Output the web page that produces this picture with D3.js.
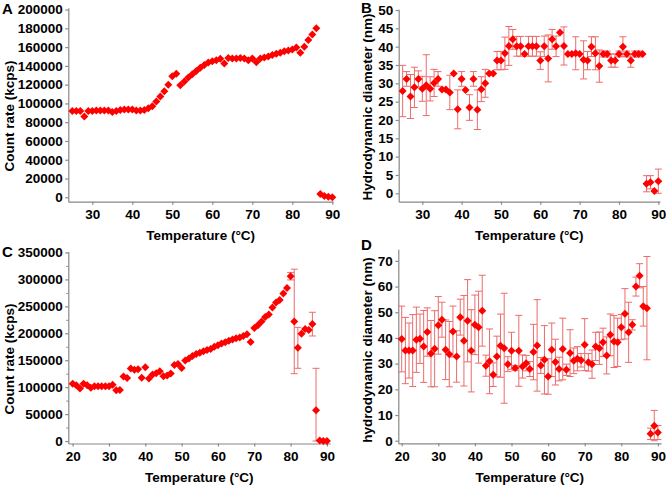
<!DOCTYPE html>
<html><head><meta charset="utf-8">
<script src="https://cdn.jsdelivr.net/npm/d3@7"></script>
<style>html,body{margin:0;padding:0;background:#fff;}svg{display:block;}</style>
</head><body>
<svg id="c" width="666" height="487"></svg>
<script>
// ---------- DATA ----------
const tempsAB = d3.range(25, 91);          // 25..90 °C
const tempsCD = d3.range(20, 91);          // 20..90 °C

const countA = [92000,92000,92000,86000,92000,92000,92500,92500,92500,92500,
  91000,92000,93000,93500,93500,93500,92500,92500,93000,95000,
  97000,102000,107500,113000,120000,129000,131500,119500,123500,127500,
  131000,134500,138000,141000,143500,145000,146000,147500,142500,148500,
  148000,148000,148500,148000,146000,148000,144000,148000,149000,150000,
  151500,153000,154000,155500,156500,157500,159500,154000,160500,167500,
  173500,180000,3500,1500,500,0];

const diamB = [27.9,31.2,26.4,28.9,31.2,28.5,29.5,28.5,30.1,31.2,
  28.3,28.3,27.5,32.7,22.9,31.2,28.2,23.4,31.2,22.8,
  28.4,30.0,32.7,32.7,36.2,36.2,38.2,40.2,42.0,40.1,
  40.1,38.0,40.1,40.1,40.1,36.2,40.1,36.8,42.0,40.1,
  43.9,40.2,38.0,38.0,38.2,38.0,36.4,36.2,40.0,38.2,
  34.7,38.0,38.0,36.2,36.2,38.0,40.0,38.0,36.2,38.0,
  38.0,38.0,2.6,3.0,0.6,3.3];
const errB = [7,2,6,5.5,2.2,3.4,8.3,3.3,3.7,2,
  0,0,4.7,0,5.3,2,0,3.5,2,5.4,
  3.4,3.8,0,0,2.5,2.5,4.4,5.3,2.7,2.7,
  2.7,0,2.7,2.7,2.7,2.4,2.8,6.4,2.7,2.8,
  0,5.2,0,0,4.5,0,5.2,2.5,2.7,4.5,
  4.4,0.8,0.8,1.8,1.8,0.8,2.7,0.8,1.8,0.8,
  0.8,0,2.2,1.8,0,3.3];

const countC = [106300,103300,97500,106300,103300,99000,101600,101600,101600,101600,
  101600,104400,94100,94500,120000,117000,134600,132100,133400,117300,
  137000,116000,123400,126000,129600,120300,121500,125200,141300,143100,
  135700,149300,153000,157900,161600,164000,166500,169000,171000,175000,
  178000,181000,183500,186000,188500,191000,192000,195000,198000,184000,
  210000,215000,222000,230000,235000,248000,257000,262000,274000,284000,
  306000,222000,173000,199000,208000,206000,217000,57000,1000,0,0];
const errC = [0,0,0,0,0,0,0,0,0,0,
  0,0,0,0,0,0,0,0,0,0,
  0,0,0,0,0,0,0,0,0,0,
  0,0,0,0,0,0,0,0,0,0,
  0,0,0,0,0,0,0,0,0,0,
  0,0,0,0,0,0,0,0,0,0,
  7000,97000,38000,0,0,0,22000,78000,0,0,0];

const diamD = [39.6,35.1,35.1,35.1,39.3,39.7,36.7,42.3,33.9,35.8,
  44.9,47.1,35.4,33.7,42.5,32.8,48.1,38.9,46.7,35.0,
  45.1,44.2,50.6,29.2,30.9,25.7,32.8,37.0,36.0,29.8,
  35.0,28.3,35.0,28.9,30.2,27.9,34.5,37.1,29.3,31.5,
  25.0,35.4,30.6,27.9,35.7,27.6,34.1,31.1,31.9,31.3,
  37.4,30.5,29.8,36.7,36.0,38.3,33.2,41.2,38.6,38.3,
  44.2,49.4,42.2,45.1,60.0,64.2,52.3,51.6,2.7,5.8,3.2];
const errD = [12.8,12.9,10.7,14,12.7,9.6,14,9.4,12.9,14.8,
  11.2,6.8,11.6,12.7,9.9,10,7,17.6,16,16,
  11.6,14,13.8,4.1,12.6,4.6,7.9,12.3,21.4,2.9,
  7.2,1,13.8,4.5,3,2.9,10.8,17.8,3.1,13.3,
  6.9,10.4,8.9,4.6,12,2.2,9.1,5,4.7,2.6,
  10.1,3.4,5.5,5.5,6.3,5.5,7.2,8.1,10.1,9.4,
  4.9,9.8,11.7,2,3.7,4.7,7.7,20.1,2.2,6,2.7];

const ticksXA = [30,40,50,60,70,80,90];
const ticksXC = [20,30,40,50,60,70,80,90];
const ticksYA = d3.range(0, 200001, 20000);
const ticksYB = d3.range(0, 51, 5);
const ticksYC = d3.range(0, 350001, 50000);
const minorYC = d3.range(25000, 350000, 50000);
const ticksYD = d3.range(0, 71, 10);

// ---------- DRAW ----------
const svg = d3.select("#c");
const FONT = "Arial, 'Liberation Sans', sans-serif";
const RED = "#ff0000";
const ERR = "#ec6b6b";
const AX = "#888";

function panel(o) {
  const x = d3.scaleLinear().domain(o.xd).range(o.xr);
  const y = d3.scaleLinear().domain(o.yd).range(o.yr);
  const g = svg.append("g");

  const gx = g.append("g").attr("transform", `translate(0,${o.yr[0]})`)
    .call(d3.axisBottom(x).tickValues(o.xt).tickSize(3).tickPadding(5).tickSizeOuter(0));
  const gy = g.append("g").attr("transform", `translate(${o.xr[0]},0)`)
    .call(d3.axisLeft(y).tickValues(o.yt).tickSize(3).tickPadding(2.5).tickSizeOuter(0).tickFormat(d3.format("d")));
  if (o.ym) {
    g.append("g").attr("transform", `translate(${o.xr[0]},0)`)
      .call(d3.axisLeft(y).tickValues(o.ym).tickSize(2).tickFormat(""))
      .call(s => s.select(".domain").remove())
      .selectAll("line").attr("stroke", AX);
  }
  [gx, gy].forEach(a => {
    a.select(".domain").attr("stroke", AX).attr("stroke-width", 1.2);
    a.selectAll(".tick line").attr("stroke", AX).attr("stroke-width", 1.2);
    a.selectAll(".tick text").attr("fill", "#000").attr("font-family", FONT)
      .attr("font-weight", "bold").attr("font-size", "13.5px");
  });

  // error bars
  const pts = o.t.map((t, i) => ({t, v: o.v[i], e: o.e ? o.e[i] : 0}));
  const eg = g.append("g").attr("stroke", ERR).attr("stroke-width", 1).attr("fill", "none");
  pts.filter(p => p.e > 0).forEach(p => {
    const lo = Math.max(p.v - p.e, 0), hi = p.v + p.e;
    const cx = x(p.t);
    eg.append("line").attr("x1", cx).attr("x2", cx).attr("y1", y(lo)).attr("y2", y(hi));
    eg.append("line").attr("x1", cx - 3.5).attr("x2", cx + 3.5).attr("y1", y(hi)).attr("y2", y(hi));
    eg.append("line").attr("x1", cx - 3.5).attr("x2", cx + 3.5).attr("y1", y(lo)).attr("y2", y(lo));
  });

  // markers (diamonds)
  const r = 4;
  g.append("g").selectAll("path").data(pts).join("path")
    .attr("d", p => `M${x(p.t)},${y(p.v) - r}L${x(p.t) + r},${y(p.v)}L${x(p.t)},${y(p.v) + r}L${x(p.t) - r},${y(p.v)}Z`)
    .attr("fill", RED);

  // titles
  const cx = (o.xr[0] + o.xr[1]) / 2;
  g.append("text").attr("x", cx).attr("y", o.yr[0] + 38.5)
    .attr("text-anchor", "middle").attr("font-family", FONT).attr("font-weight", "bold")
    .attr("font-size", "13.5px").text("Temperature (°C)");
  g.append("text").attr("transform", `translate(${o.ytx},${o.yty}) rotate(-90)`)
    .attr("text-anchor", "middle").attr("dy", "0.35em").attr("font-family", FONT)
    .attr("font-weight", "bold").attr("font-size", "13.5px").text(o.ytitle);
  g.append("text").attr("x", o.lx).attr("y", o.ly).attr("font-family", FONT)
    .attr("font-weight", "bold").attr("font-size", "15px").text(o.letter);
}

panel({letter: "A", lx: 2, ly: 14, t: tempsAB, v: countA,
  xd: [24, 90.2], xr: [68.3, 333.1], xt: ticksXA,
  yd: [-4700, 202000], yr: [201.7, 7.7], yt: ticksYA,
  ytitle: "Count rate (kcps)", ytx: 9, yty: 116});

panel({letter: "B", lx: 361, ly: 13, t: tempsAB, v: diamB, e: errB,
  xd: [24, 90.4], xr: [398.7, 659.9], xt: ticksXA,
  yd: [-2.3, 50.2], yr: [201.7, 9.3], yt: ticksYB,
  ytitle: "Hydrodynamic diameter (nm)", ytx: 367, yty: 107});

panel({letter: "C", lx: 2, ly: 257, t: tempsCD, v: countC, e: errC,
  xd: [18.8, 90.9], xr: [68.3, 330.2], xt: ticksXC,
  yd: [-4600, 352000], yr: [443.5, 251.4], yt: ticksYC, ym: minorYC,
  ytitle: "Count rate (kcps)", ytx: 9, yty: 359});

panel({letter: "D", lx: 361, ly: 250, t: tempsCD, v: diamD, e: errD,
  xd: [19.07, 90.9], xr: [398.3, 661.2], xt: ticksXC,
  yd: [-1, 74.5], yr: [443.3, 249.3], yt: ticksYD,
  ytitle: "hydrodynamic diameter (nm)", ytx: 367, yty: 350});
</script>
</body></html>
